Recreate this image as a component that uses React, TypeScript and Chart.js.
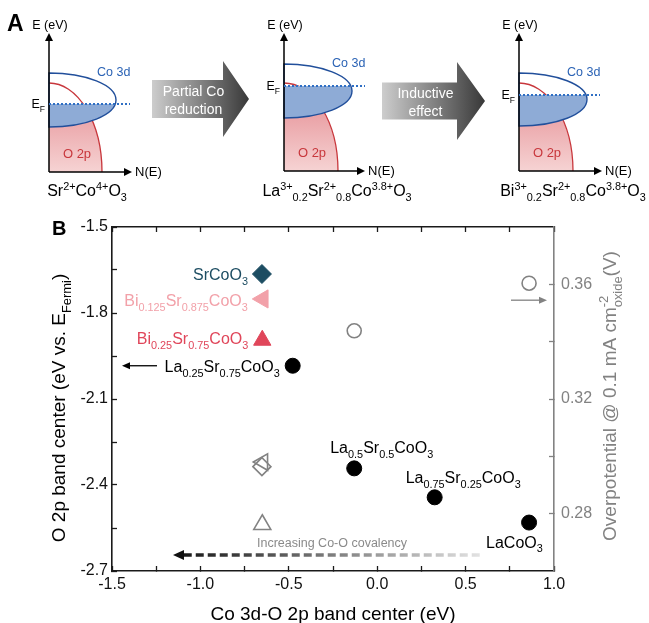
import React, { useEffect, useRef } from 'react';
import { Chart, registerables } from 'chart.js';
Chart.register(...registerables);

const FONT = '"Liberation Sans", Arial, Helvetica, sans-serif';

// ---------- data (panel B) ----------
const compounds = ['SrCoO3', 'Bi0.125Sr0.875CoO3', 'Bi0.25Sr0.75CoO3', 'La0.25Sr0.75CoO3', 'La0.5Sr0.5CoO3', 'La0.75Sr0.25CoO3', 'LaCoO3'];
const co3dO2pCenter = [-0.652, -0.647, -0.65, -0.478, -0.13, 0.325, 0.859];
const o2pBandCenter = [-1.664, -1.751, -1.895, -1.984, -2.342, -2.443, -2.531];
const overpotential: (number | null)[] = [0.2964, 0.298, 0.2762, null, 0.3438, null, 0.3604];
const xTicks = [-1.5, -1.0, -0.5, 0, 0.5, 1.0];
const xMinorTicks = [-1.25, -0.75, -0.25, 0.25, 0.75];
const yTicks = [-2.7, -2.4, -2.1, -1.8, -1.5];
const yMinorTicks = [-2.55, -2.25, -1.95, -1.65];
const y2Ticks = [0.28, 0.32, 0.36];
const y2MinorTicks = [0.3, 0.34];

// ---------- styles ----------
const markerStyles = ['rectRot', 'triangle', 'triangle', 'circle', 'circle', 'circle', 'circle'];
const markerRotation = [0, -90, 0, 0, 0, 0, 0];
const markerColors = ['#1d4d62', '#f2a1a9', '#e0465a', '#000', '#000', '#000', '#000'];
const markerRadius = [9.5, 10.5, 10, 7.5, 7.5, 7.5, 7.5];
const openRadius = [9, 9.5, 9.8, 7, 7, 7, 7];
const GRAY = '#828282';
const AXIS = '#1a1a1a';

type Seg = { t: string; k?: 'sub' | 'sup' | 'stack'; t2?: string };

const labelSegs: Seg[][] = [
  [{ t: 'SrCoO' }, { t: '3', k: 'sub' }],
  [{ t: 'Bi' }, { t: '0.125', k: 'sub' }, { t: 'Sr' }, { t: '0.875', k: 'sub' }, { t: 'CoO' }, { t: '3', k: 'sub' }],
  [{ t: 'Bi' }, { t: '0.25', k: 'sub' }, { t: 'Sr' }, { t: '0.75', k: 'sub' }, { t: 'CoO' }, { t: '3', k: 'sub' }],
  [{ t: 'La' }, { t: '0.25', k: 'sub' }, { t: 'Sr' }, { t: '0.75', k: 'sub' }, { t: 'CoO' }, { t: '3', k: 'sub' }],
  [{ t: 'La' }, { t: '0.5', k: 'sub' }, { t: 'Sr' }, { t: '0.5', k: 'sub' }, { t: 'CoO' }, { t: '3', k: 'sub' }],
  [{ t: 'La' }, { t: '0.75', k: 'sub' }, { t: 'Sr' }, { t: '0.25', k: 'sub' }, { t: 'CoO' }, { t: '3', k: 'sub' }],
  [{ t: 'LaCoO' }, { t: '3', k: 'sub' }],
];
const labelPlace: { dx: number; dy: number; align: 'left' | 'right' | 'center' }[] = [
  { dx: -14, dy: 6, align: 'right' },
  { dx: -15, dy: 7, align: 'right' },
  { dx: -14, dy: 4, align: 'right' },
  { dx: -13, dy: 6, align: 'right' },
  { dx: -24, dy: -15, align: 'left' },
  { dx: -29, dy: -14, align: 'left' },
  { dx: -43, dy: 25, align: 'left' },
];

// ---------- panel A schematic ----------
const diagrams = [
  { ox: 49, base: 172, cy: 100, rx: 67, ry: 27, ef: 104, o2Top: 83, o2Rx: 53, xEnd: 132, fx: 87,
    formula: [{ t: 'Sr' }, { t: '2+', k: 'sup' }, { t: 'Co' }, { t: '4+', k: 'sup' }, { t: 'O' }, { t: '3', k: 'sub' }] as Seg[] },
  { ox: 284, base: 171, cy: 91, rx: 68, ry: 27, ef: 86, o2Top: 83, o2Rx: 54, xEnd: 365, fx: 337,
    formula: [{ t: 'La' }, { t: '3+', k: 'sup' }, { t: '0.2', k: 'sub' }, { t: 'Sr' }, { t: '2+', k: 'sup' }, { t: '0.8', k: 'sub' }, { t: 'Co' }, { t: '3.8+', k: 'sup' }, { t: 'O' }, { t: '3', k: 'sub' }] as Seg[] },
  { ox: 519, base: 171, cy: 99.5, rx: 68, ry: 26.5, ef: 95, o2Top: 83, o2Rx: 54, xEnd: 602, fx: 573,
    formula: [{ t: 'Bi' }, { t: '3+', k: 'sup' }, { t: '0.2', k: 'sub' }, { t: 'Sr' }, { t: '2+', k: 'sup' }, { t: '0.8', k: 'sub' }, { t: 'Co' }, { t: '3.8+', k: 'sup' }, { t: 'O' }, { t: '3', k: 'sub' }] as Seg[] },
];
const bigArrows = [
  { x0: 152, xb: 223, xt: 249, cy: 99, bh: 19, hh: 38, lines: ['Partial Co', 'reduction'] },
  { x0: 382, xb: 457, xt: 485, cy: 101, bh: 18.5, hh: 39, lines: ['Inductive', 'effect'] },
];

function segWidth(ctx: CanvasRenderingContext2D, segs: Seg[], size: number) {
  let w = 0;
  for (const s of segs) {
    if (!s.k) {
      ctx.font = `${size}px ${FONT}`;
      w += ctx.measureText(s.t).width;
    } else {
      ctx.font = `${size * 0.68}px ${FONT}`;
      let ww = ctx.measureText(s.t).width;
      if (s.k === 'stack' && s.t2) ww = Math.max(ww, ctx.measureText(s.t2).width);
      w += ww;
    }
  }
  return w;
}

function drawRich(ctx: CanvasRenderingContext2D, segs: Seg[], x: number, y: number, size: number, color: string, align: 'left' | 'right' | 'center') {
  const w = segWidth(ctx, segs, size);
  let cx = align === 'left' ? x : align === 'right' ? x - w : x - w / 2;
  ctx.fillStyle = color;
  ctx.textAlign = 'left';
  ctx.textBaseline = 'alphabetic';
  for (const s of segs) {
    if (!s.k) {
      ctx.font = `${size}px ${FONT}`;
      ctx.fillText(s.t, cx, y);
      cx += ctx.measureText(s.t).width;
    } else {
      const ss = size * 0.68;
      ctx.font = `${ss}px ${FONT}`;
      if (s.k === 'sub') {
        ctx.fillText(s.t, cx, y + size * 0.3);
        cx += ctx.measureText(s.t).width;
      } else if (s.k === 'sup') {
        ctx.fillText(s.t, cx, y - size * 0.4);
        cx += ctx.measureText(s.t).width;
      } else {
        ctx.fillText(s.t, cx, y - size * 0.42);
        ctx.fillText(s.t2 || '', cx, y + size * 0.3);
        cx += Math.max(ctx.measureText(s.t).width, ctx.measureText(s.t2 || '').width);
      }
    }
  }
}

function arrowLine(ctx: CanvasRenderingContext2D, x1: number, y1: number, x2: number, y2: number, color: string, lw: number, headL: number, headW: number) {
  const ang = Math.atan2(y2 - y1, x2 - x1);
  const bx = x2 - Math.cos(ang) * headL;
  const by = y2 - Math.sin(ang) * headL;
  ctx.strokeStyle = color;
  ctx.lineWidth = lw;
  ctx.setLineDash([]);
  ctx.beginPath();
  ctx.moveTo(x1, y1);
  ctx.lineTo(bx, by);
  ctx.stroke();
  ctx.fillStyle = color;
  ctx.beginPath();
  ctx.moveTo(x2, y2);
  ctx.lineTo(bx - Math.sin(ang) * headW, by + Math.cos(ang) * headW);
  ctx.lineTo(bx + Math.sin(ang) * headW, by - Math.cos(ang) * headW);
  ctx.closePath();
  ctx.fill();
}

function drawDiagram(ctx: CanvasRenderingContext2D, d: typeof diagrams[number]) {
  const { ox, base, cy, rx, ry, ef, o2Top, o2Rx, xEnd, fx, formula } = d;
  const o2Ry = base - o2Top;
  const g = ctx.createLinearGradient(0, o2Top, 0, base);
  g.addColorStop(0, '#e3868d');
  g.addColorStop(1, '#f6d3d3');
  ctx.beginPath();
  ctx.moveTo(ox, base);
  ctx.lineTo(ox, o2Top);
  ctx.ellipse(ox, base, o2Rx, o2Ry, 0, -Math.PI / 2, 0);
  ctx.closePath();
  ctx.fillStyle = g;
  ctx.fill();
  const half = () => {
    ctx.beginPath();
    ctx.ellipse(ox, cy, rx, ry, 0, -Math.PI / 2, Math.PI / 2);
    ctx.closePath();
  };
  half();
  ctx.fillStyle = '#fff';
  ctx.fill();
  ctx.beginPath();
  ctx.ellipse(ox, base, o2Rx, o2Ry, 0, -Math.PI / 2, 0);
  ctx.strokeStyle = '#c8373c';
  ctx.lineWidth = 1.3;
  ctx.stroke();
  ctx.save();
  ctx.beginPath();
  ctx.rect(ox, ef, rx + 5, cy + ry - ef + 5);
  ctx.clip();
  half();
  ctx.fillStyle = '#8eabd6';
  ctx.fill();
  ctx.restore();
  half();
  ctx.strokeStyle = '#214f9b';
  ctx.lineWidth = 1.4;
  ctx.stroke();
  arrowLine(ctx, ox, base, ox, 33, '#000', 1.5, 8, 4);
  arrowLine(ctx, ox, base, xEnd, base, '#000', 1.5, 8, 4);
  ctx.save();
  ctx.setLineDash([2, 2]);
  ctx.strokeStyle = '#2f6fc4';
  ctx.lineWidth = 2;
  ctx.beginPath();
  ctx.moveTo(ox, ef);
  ctx.lineTo(ox + 81, ef);
  ctx.stroke();
  ctx.restore();
  drawRich(ctx, [{ t: 'E (eV)' }], ox + 1, 28.5, 12.5, '#000', 'center');
  drawRich(ctx, [{ t: 'Co 3d' }], ox + 48, cy - ry + 3, 12.5, '#2b63b5', 'left');
  drawRich(ctx, [{ t: 'E' }, { t: 'F', k: 'sub' }], ox - 4, ef + 4, 12.5, '#000', 'right');
  drawRich(ctx, [{ t: 'O 2p' }], ox + 28, base - 14, 13, '#c8373c', 'center');
  drawRich(ctx, [{ t: 'N(E)' }], xEnd + 3, base + 4, 13, '#000', 'left');
  drawRich(ctx, formula, fx, 196, 16, '#000', 'center');
}

function drawBigArrow(ctx: CanvasRenderingContext2D, a: typeof bigArrows[number]) {
  const { x0, xb, xt, cy, bh, hh, lines } = a;
  const g = ctx.createLinearGradient(x0, 0, xt, 0);
  g.addColorStop(0, '#cdcdcd');
  g.addColorStop(1, '#383838');
  ctx.beginPath();
  ctx.moveTo(x0, cy - bh);
  ctx.lineTo(xb, cy - bh);
  ctx.lineTo(xb, cy - hh);
  ctx.lineTo(xt, cy);
  ctx.lineTo(xb, cy + hh);
  ctx.lineTo(xb, cy + bh);
  ctx.lineTo(x0, cy + bh);
  ctx.closePath();
  ctx.fillStyle = g;
  ctx.fill();
  const tx = (x0 + xb) / 2 + 6;
  drawRich(ctx, [{ t: lines[0] }], tx, cy - 3, 14, '#fff', 'center');
  drawRich(ctx, [{ t: lines[1] }], tx, cy + 15, 14, '#fff', 'center');
}

const annotate = {
  id: 'annotate',
  afterDraw(chart: any) {
    const ctx: CanvasRenderingContext2D = chart.ctx;
    const ca = chart.chartArea;
    const left = ca.left, right = ca.right, bottom = ca.bottom;
    const sx = chart.scales.x, sy = chart.scales.y, sy2 = chart.scales.y2;
    ctx.save();

    ctx.font = `bold 23px ${FONT}`;
    ctx.fillStyle = '#000';
    ctx.textAlign = 'left';
    ctx.textBaseline = 'alphabetic';
    ctx.fillText('A', 7, 31);
    diagrams.forEach((d) => drawDiagram(ctx, d));
    bigArrows.forEach((a) => drawBigArrow(ctx, a));

    ctx.font = `bold 20px ${FONT}`;
    ctx.fillStyle = '#000';
    ctx.textAlign = 'left';
    ctx.fillText('B', 52, 235);

    labelSegs.forEach((segs, i) => {
      const px = sx.getPixelForValue(co3dO2pCenter[i]);
      const py = sy.getPixelForValue(o2pBandCenter[i]);
      const pl = labelPlace[i];
      drawRich(ctx, segs, px + pl.dx, py + pl.dy, 16, i < 3 ? markerColors[i] : '#000', pl.align);
    });

    const yLa = sy.getPixelForValue(o2pBandCenter[3]);
    arrowLine(ctx, left + 45, yLa, left + 10, yLa, '#000', 1.3, 8, 3.5);
    const yOp = sy2.getPixelForValue(overpotential[6] as number) + 17;
    arrowLine(ctx, right - 43, yOp, right - 7, yOp, GRAY, 1.3, 8, 3.5);

    const ay = bottom - 16;
    const xStart = sx.getPixelForValue(0.58);
    const xTip = sx.getPixelForValue(-1.155);
    const dg = ctx.createLinearGradient(xStart, 0, xTip, 0);
    dg.addColorStop(0, '#e2e2e2');
    dg.addColorStop(1, '#111');
    ctx.save();
    ctx.setLineDash([8, 4]);
    ctx.lineWidth = 3.5;
    ctx.strokeStyle = dg;
    ctx.beginPath();
    ctx.moveTo(xStart, ay);
    ctx.lineTo(xTip + 9, ay);
    ctx.stroke();
    ctx.restore();
    ctx.fillStyle = '#111';
    ctx.beginPath();
    ctx.moveTo(xTip, ay);
    ctx.lineTo(xTip + 11, ay - 5);
    ctx.lineTo(xTip + 11, ay + 5);
    ctx.closePath();
    ctx.fill();
    drawRich(ctx, [{ t: 'Increasing Co-O covalency' }], 332, ay - 8, 12.5, '#8a8a8a', 'center');

    drawRich(ctx, [{ t: 'Co 3d-O 2p band center (eV)' }], (left + right) / 2, 620, 19, '#000', 'center');
    ctx.save();
    ctx.translate(65, 408);
    ctx.rotate(-Math.PI / 2);
    drawRich(ctx, [{ t: 'O 2p band center (eV vs. E' }, { t: 'Fermi', k: 'sub' }, { t: ')' }], 0, 0, 19, '#000', 'center');
    ctx.restore();
    ctx.save();
    ctx.translate(616, 396);
    ctx.rotate(-Math.PI / 2);
    drawRich(ctx, [{ t: 'Overpotential @ 0.1 mA cm' }, { t: '-2', k: 'stack', t2: 'oxide' }, { t: '(V)' }], 0, 0, 19, GRAY, 'center');
    ctx.restore();

    ctx.restore();
  },
};

const withMinor = (major: number[], minor: number[]) => [...major, ...minor].sort((a, b) => a - b).map((v) => ({ value: v }));
const isMajor = (list: number[], v: number) => list.some((m) => Math.abs(m - v) < 1e-6);

// native inward ticks (negative tick length) + axis borders
const gridIn = (color: string) => ({ display: true, drawOnChartArea: false, drawTicks: true, tickLength: -5, tickWidth: 1.3, tickColor: color });

export default function App() {
  const ref = useRef<HTMLCanvasElement>(null);
  useEffect(() => {
    const canvas = ref.current!;
    Chart.defaults.font.family = FONT;
    const chart = new Chart(canvas, {
      type: 'scatter',
      data: {
        datasets: [
          {
            label: 'O 2p band center',
            yAxisID: 'y',
            data: compounds.map((_, i) => ({ x: co3dO2pCenter[i], y: o2pBandCenter[i] })),
            pointStyle: markerStyles as any,
            rotation: markerRotation,
            pointRadius: markerRadius,
            backgroundColor: markerColors,
            borderColor: markerColors,
            borderWidth: 1,
          } as any,
          {
            label: 'Overpotential',
            yAxisID: 'y2',
            data: compounds.map((_, i) => ({ x: co3dO2pCenter[i], y: overpotential[i] })),
            pointStyle: markerStyles as any,
            rotation: markerRotation,
            pointRadius: openRadius,
            backgroundColor: 'rgba(0,0,0,0)',
            borderColor: GRAY,
            borderWidth: 1.6,
          } as any,
        ],
      },
      options: {
        responsive: false,
        animation: false,
        devicePixelRatio: 1,
        layout: { padding: { top: 227, left: 0, right: 0, bottom: 0 } },
        plugins: { legend: { display: false }, tooltip: { enabled: false } },
        scales: {
          x: {
            type: 'linear',
            position: 'bottom',
            min: -1.5,
            max: 1.0,
            grid: gridIn(AXIS),
            border: { display: true, color: AXIS, width: 1.6 },
            afterBuildTicks: (s: any) => { s.ticks = withMinor(xTicks, xMinorTicks); },
            afterFit: (s: any) => { s.height = 52; },
            ticks: { autoSkip: false, maxRotation: 0, padding: 9, color: '#111', font: { size: 16, family: FONT },
              callback: (v: any) => (isMajor(xTicks, Number(v)) ? Number(v).toFixed(1) : '') },
          },
          xTop: {
            type: 'linear',
            position: 'top',
            min: -1.5,
            max: 1.0,
            grid: gridIn(AXIS),
            border: { display: true, color: AXIS, width: 1.6 },
            afterBuildTicks: (s: any) => { s.ticks = withMinor(xTicks, xMinorTicks); },
            afterFit: (s: any) => { s.height = 0; },
            ticks: { display: false },
          },
          y: {
            type: 'linear',
            position: 'left',
            min: -2.7,
            max: -1.5,
            grid: gridIn(AXIS),
            border: { display: true, color: AXIS, width: 1.6 },
            afterBuildTicks: (s: any) => { s.ticks = withMinor(yTicks, yMinorTicks); },
            afterFit: (s: any) => { s.width = 112; },
            ticks: { autoSkip: false, padding: 9, color: '#111', font: { size: 16, family: FONT },
              callback: (v: any) => (isMajor(yTicks, Number(v)) ? Number(v).toFixed(1) : '') },
          },
          y2: {
            type: 'linear',
            position: 'right',
            min: 0.26,
            max: 0.38,
            grid: gridIn(GRAY),
            border: { display: true, color: GRAY, width: 1.6 },
            afterBuildTicks: (s: any) => { s.ticks = withMinor(y2Ticks, y2MinorTicks); },
            afterFit: (s: any) => { s.width = 95; },
            ticks: { autoSkip: false, padding: 12, color: GRAY, font: { size: 16, family: FONT },
              callback: (v: any) => (isMajor(y2Ticks, Number(v)) ? Number(v).toFixed(2) : '') },
          },
        },
      } as any,
      plugins: [annotate as any],
    });
    return () => chart.destroy();
  }, []);
  return (
    <div style={{ position: 'fixed', left: 0, top: 0, width: 649, height: 623, background: '#fff' }}>
      <canvas ref={ref} width={649} height={623} style={{ display: 'block', width: 649, height: 623 }} />
    </div>
  );
}
